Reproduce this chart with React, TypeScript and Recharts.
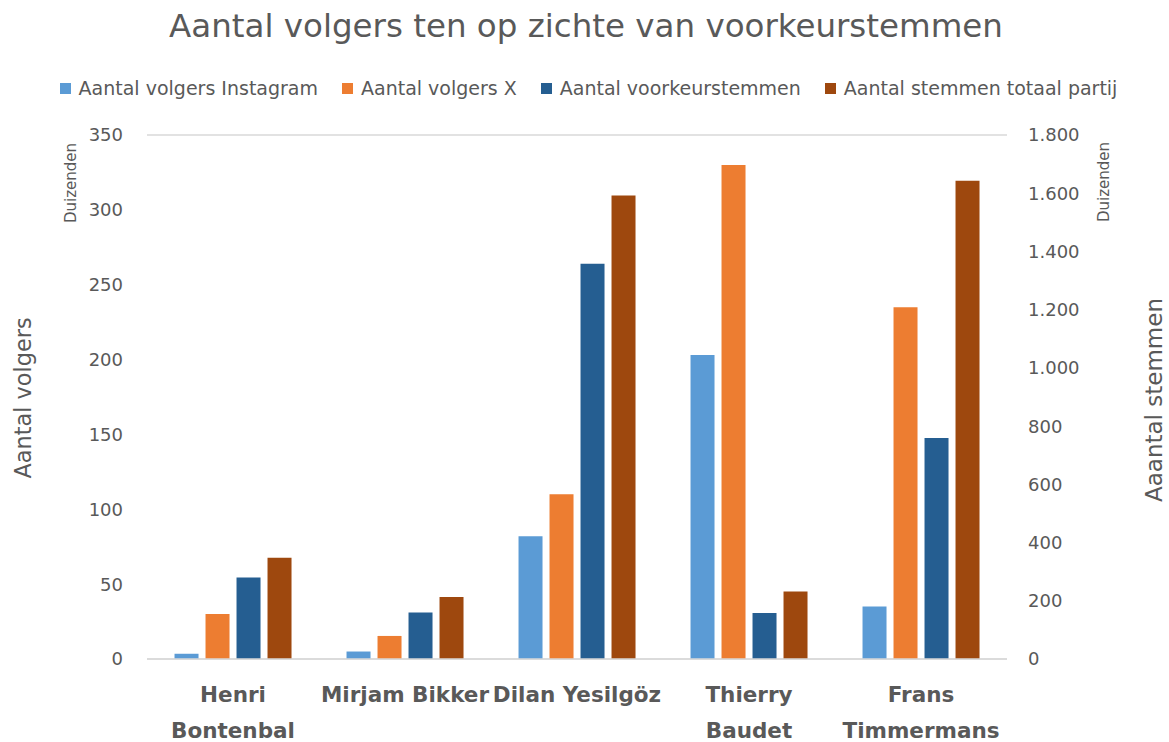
import { Bar, BarChart, CartesianGrid, XAxis, YAxis } from "recharts";

const categories = [
  "Henri Bontenbal",
  "Mirjam Bikker",
  "Dilan Yesilgöz",
  "Thierry Baudet",
  "Frans Timmermans",
];
// how the category labels wrap under the axis
const categoryLines = [
  ["Henri", "Bontenbal"],
  ["Mirjam Bikker"],
  ["Dilan Yesilgöz"],
  ["Thierry", "Baudet"],
  ["Frans", "Timmermans"],
];

// values in thousands (Duizenden)
const volgersInstagram = [3.5, 5, 82, 203, 35];
const volgersX = [30, 15.4, 110, 330, 235];
const voorkeurstemmen = [280, 160, 1358, 158, 759];
const stemmenTotaal = [348, 213, 1592, 232, 1643];

const leftTicks = [0, 50, 100, 150, 200, 250, 300, 350];
const rightTicks = [0, 200, 400, 600, 800, 1000, 1200, 1400, 1600, 1800];

const series = [
  { key: "instagram", name: "Aantal volgers Instagram", color: "#5B9BD5", axis: "left" },
  { key: "x", name: "Aantal volgers X", color: "#ED7D31", axis: "left" },
  { key: "voorkeur", name: "Aantal voorkeurstemmen", color: "#255E91", axis: "right" },
  { key: "totaal", name: "Aantal stemmen totaal partij", color: "#9E480E", axis: "right" },
];

const data = categories.map((name, i) => ({
  name,
  instagram: volgersInstagram[i],
  x: volgersX[i],
  voorkeur: voorkeurstemmen[i],
  totaal: stemmenTotaal[i],
}));

const FONT = "'DejaVu Sans', sans-serif";
const GRAY = "#595959";

const dotted = (v: number) => String(v).replace(/\B(?=(\d{3})+(?!\d))/g, ".");

function CategoryTick(props: any) {
  const { x, y, payload } = props;
  const lines = categoryLines[payload.index] ?? [payload.value];
  return (
    <text
      x={x}
      y={y}
      textAnchor="middle"
      fontFamily={FONT}
      fontSize={21.5}
      fontWeight="bold"
      fill={GRAY}
    >
      {lines.map((l, i) => (
        <tspan key={i} x={x} dy={i === 0 ? 35 : 36}>
          {l}
        </tspan>
      ))}
    </text>
  );
}

function RotatedLabel({ x, y, size, children }: { x: number; y: number; size: number; children: string }) {
  return (
    <text
      transform={`translate(${x},${y}) rotate(-90)`}
      textAnchor="middle"
      dominantBaseline="central"
      fontFamily={FONT}
      fontSize={size}
      fill={GRAY}
    >
      {children}
    </text>
  );
}

export default function App() {
  return (
    <div
      style={{
        position: "absolute",
        left: 0,
        top: 0,
        width: 1169,
        height: 742,
        background: "#fff",
        fontFamily: FONT,
      }}
    >
      <BarChart
        width={1169}
        height={742}
        data={data}
        margin={{ top: 135, right: 62, bottom: 0, left: 47 }}
        barCategoryGap="16%"
        barGap={7}
      >
        <CartesianGrid vertical={false} stroke="#D9D9D9" strokeWidth={1.5} />
        <XAxis
          dataKey="name"
          height={83}
          axisLine={{ stroke: "#D9D9D9", strokeWidth: 1.5 }}
          tickLine={false}
          interval={0}
          tick={<CategoryTick />}
        />
        <YAxis
          yAxisId="left"
          width={100}
          domain={[0, 350]}
          ticks={leftTicks}
          axisLine={false}
          tickLine={false}
          tickMargin={18}
          tick={{ fill: GRAY, fontSize: 18, fontFamily: FONT }}
        />
        <YAxis
          yAxisId="right"
          orientation="right"
          width={100}
          domain={[0, 1800]}
          ticks={rightTicks}
          axisLine={false}
          tickLine={false}
          tickMargin={15}
          tickFormatter={dotted}
          tick={{ fill: GRAY, fontSize: 18, fontFamily: FONT }}
        />
        {series.map((s) => (
          <Bar
            key={s.key}
            dataKey={s.key}
            name={s.name}
            yAxisId={s.axis}
            fill={s.color}
            isAnimationActive={false}
          />
        ))}
      </BarChart>

      <svg
        width={1169}
        height={742}
        style={{ position: "absolute", left: 0, top: 0, pointerEvents: "none" }}
      >
        <text
          x={586}
          y={37}
          textAnchor="middle"
          fontFamily={FONT}
          fontSize={32.5}
          fill={GRAY}
        >
          Aantal volgers ten op zichte van voorkeurstemmen
        </text>
        <RotatedLabel x={23} y={398} size={22.4}>Aantal volgers</RotatedLabel>
        <RotatedLabel x={1154} y={400} size={23}>Aaantal stemmen</RotatedLabel>
        <RotatedLabel x={71} y={183} size={15}>Duizenden</RotatedLabel>
        <RotatedLabel x={1104} y={182} size={15}>Duizenden</RotatedLabel>
      </svg>

      <div
        style={{
          position: "absolute",
          left: 4,
          top: 77,
          width: 1169,
          display: "flex",
          justifyContent: "center",
          gap: 24,
          fontSize: 19,
          color: GRAY,
          lineHeight: "22px",
        }}
      >
        {series.map((s) => (
          <div key={s.key} style={{ display: "flex", alignItems: "center" }}>
            <span
              style={{
                display: "inline-block",
                width: 11,
                height: 11,
                background: s.color,
                marginRight: 8,
              }}
            />
            {s.name}
          </div>
        ))}
      </div>
    </div>
  );
}
